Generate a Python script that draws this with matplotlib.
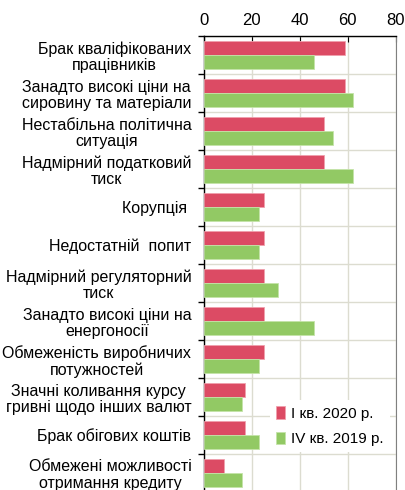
import numpy as np
import matplotlib.pyplot as plt
from matplotlib.ticker import MultipleLocator, FixedLocator

plt.rcParams['font.family'] = ['Liberation Sans', 'DejaVu Sans']

# категорії і значення, %
labels = ['Брак кваліфікованих\nпрацівників',
          'Занадто високі ціни на\nсировину та матеріали',
          'Нестабільна політична\nситуація',
          'Надмірний податковий\nтиск',
          'Корупція ',
          'Недостатній  попит',
          'Надмірний регуляторний\nтиск',
          'Занадто високі ціни на\nенергоносії',
          'Обмеженість виробничих\nпотужностей',
          'Значні коливання курсу\nгривні щодо інших валют',
          'Брак обігових коштів',
          'Обмежені можливості\nотримання кредиту']
q1_2020 = [59, 59, 50, 50, 25, 25, 25, 25, 25, 17, 17, 8.5]
q4_2019 = [46, 62, 54, 62, 23, 23, 31, 46, 23, 16, 23, 16]
names = ['І кв. 2020 р.', 'IV кв. 2019 р.']

red = '#dc4b64'
green = '#92c964'

fig = plt.figure(figsize=(4.06, 4.9), dpi=100)
ax = fig.add_axes([0.502, -0.004, 0.473, 0.930])

y = np.arange(len(labels))
h = 0.37
ax.barh(y - 0.19, q1_2020, height=h, color=red, edgecolor='#f0a0ad', linewidth=0.6, label=names[0], zorder=3)
ax.barh(y + 0.19, q4_2019, height=h, color=green, edgecolor='#c4e4a8', linewidth=0.6, label=names[1], zorder=3)

ax.set_xlim(0, 80)
ax.set_ylim(len(labels) - 0.5, -0.5)
ax.xaxis.set_major_locator(MultipleLocator(20))
ax.xaxis.tick_top()
ax.tick_params(axis='x', direction='in', length=4, width=0.8, labelsize=12, pad=6)

ax.set_yticks(y)
ax.set_yticklabels(labels, fontsize=11.5, multialignment='center', linespacing=1.12)
ax.yaxis.set_minor_locator(FixedLocator(np.arange(-0.5, len(labels), 1)))
ax.tick_params(axis='y', which='major', length=0, pad=9)
ax.tick_params(axis='y', which='minor', length=4, width=1, direction='out')

ax.grid(axis='x', which='major', color='#dcdcd0', linewidth=1, zorder=0)
ax.grid(axis='y', which='minor', color='#dcdcd0', linewidth=1, zorder=0)

for s in ['top', 'left']:
    ax.spines[s].set_color('black')
    ax.spines[s].set_linewidth(1)
ax.spines['right'].set_color('#808080')
ax.spines['bottom'].set_visible(False)

leg = ax.legend(loc='lower right', bbox_to_anchor=(0.985, 0.08), frameon=True, fontsize=11,
                handlelength=0.6, handleheight=0.9, handletextpad=0.4, labelspacing=0.7,
                borderaxespad=0.2)
leg.get_frame().set_edgecolor('none')
leg.get_frame().set_facecolor('white')
leg.get_frame().set_alpha(1)
leg.set_zorder(5)

fig.savefig('out.png', dpi=100)
